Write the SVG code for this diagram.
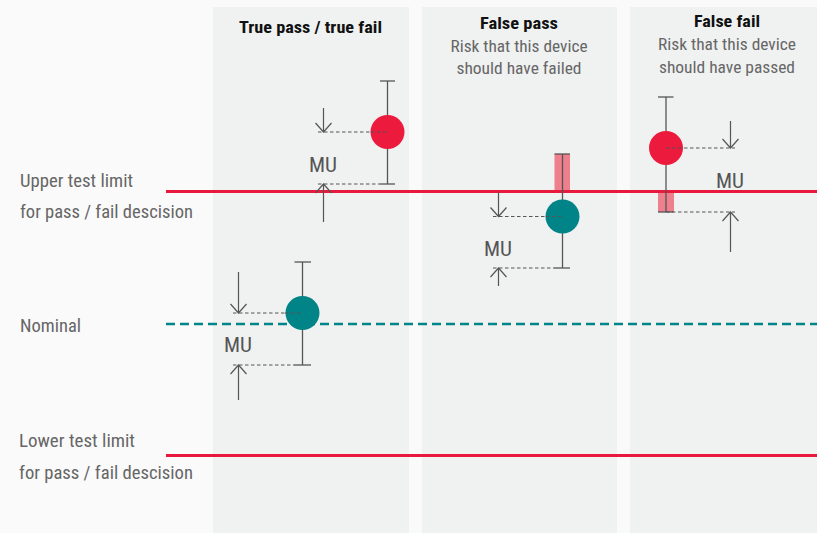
<svg xmlns="http://www.w3.org/2000/svg" width="817" height="533" viewBox="0 0 817 533">
<style>
.t{font-family:"Liberation Sans Narrow","Roboto Condensed","Liberation Sans",Arial,sans-serif;}
.hd{font-size:17px;font-weight:bold;fill:#111;text-anchor:middle}
.sub{font-size:16px;fill:#666;text-anchor:middle}
.lbl{font-size:18px;fill:#666}
.mu{font-size:20px;fill:#555;text-anchor:middle}
.bar{stroke:#555;stroke-width:1.3;fill:none}
.dash{stroke:#555;stroke-width:1;stroke-dasharray:3.5 2.5;fill:none}
.arr{stroke:#555;stroke-width:1.2;fill:none}
.lim{stroke:#e8193c;stroke-width:3}
.nom{stroke:#00868a;stroke-width:2.5;stroke-dasharray:9 5}
.red{fill:#ec1a3c}
.teal{fill:#008487}
.pink{fill:#ee7f8c}
</style>
<rect x="0" y="0" width="817" height="533" fill="#fafafa"/>
<g id="columns">
<rect x="213" y="7" width="196" height="526" fill="#f0f1f1"/>
<rect x="422" y="7" width="195" height="526" fill="#f0f1f1"/>
<rect x="630" y="7" width="187" height="526" fill="#f0f1f1"/>
</g>
<g id="headers" class="t">
<text class="hd" x="310.5" y="33" textLength="143" lengthAdjust="spacingAndGlyphs">True pass / true fail</text>
<text class="hd" x="519" y="29" textLength="78" lengthAdjust="spacingAndGlyphs">False pass</text>
<text class="sub" x="519" y="52" textLength="137" lengthAdjust="spacingAndGlyphs">Risk that this device</text>
<text class="sub" x="519" y="74" textLength="125" lengthAdjust="spacingAndGlyphs">should have failed</text>
<text class="hd" x="727" y="27" textLength="66" lengthAdjust="spacingAndGlyphs">False fail</text>
<text class="sub" x="727" y="50" textLength="138" lengthAdjust="spacingAndGlyphs">Risk that this device</text>
<text class="sub" x="727" y="73" textLength="136" lengthAdjust="spacingAndGlyphs">should have passed</text>
</g>
<g id="labels" class="t">
<text class="lbl" x="20" y="187" textLength="113" lengthAdjust="spacingAndGlyphs">Upper test limit</text>
<text class="lbl" x="20" y="218" textLength="173" lengthAdjust="spacingAndGlyphs">for pass / fail descision</text>
<text class="lbl" x="20" y="332" textLength="61" lengthAdjust="spacingAndGlyphs">Nominal</text>
<text class="lbl" x="19" y="447" textLength="116" lengthAdjust="spacingAndGlyphs">Lower test limit</text>
<text class="lbl" x="19" y="479" textLength="174" lengthAdjust="spacingAndGlyphs">for pass / fail descision</text>
</g>
<g id="pinkbars">
<rect class="pink" x="554.5" y="154" width="15.5" height="38"/>
<rect class="pink" x="658" y="192" width="16" height="20"/>
</g>
<g id="connectors">
<line class="lim" x1="166" y1="191.5" x2="817" y2="191.5"/>
<line class="lim" x1="166" y1="455.5" x2="817" y2="455.5"/>
<line class="nom" x1="166" y1="324" x2="817" y2="324"/>
</g>
<g id="point1">
<line class="bar" x1="302.5" y1="262" x2="302.5" y2="365"/>
<line class="bar" x1="294.5" y1="262" x2="311" y2="262"/>
<line class="bar" x1="294.5" y1="365" x2="311" y2="365"/>
<line class="dash" x1="233" y1="313" x2="302" y2="313"/>
<line class="dash" x1="233" y1="365" x2="295" y2="365"/>
<circle class="teal" cx="302.5" cy="313" r="17"/>
<line class="dash" x1="285" y1="313" x2="302" y2="313"/>
<path class="arr" d="M238.5 272V313M230.5 304L238.5 313L246.5 304"/>
<path class="arr" d="M238.5 400V365M230.5 374L238.5 365L246.5 374"/>
<text class="t mu" x="238" y="352" textLength="28" lengthAdjust="spacingAndGlyphs">MU</text>
</g>
<g id="point2">
<line class="bar" x1="387.5" y1="81" x2="387.5" y2="184"/>
<line class="bar" x1="380" y1="81" x2="395" y2="81"/>
<line class="bar" x1="380" y1="184" x2="395" y2="184"/>
<line class="dash" x1="318" y1="132" x2="387" y2="132"/>
<line class="dash" x1="318" y1="184" x2="380" y2="184"/>
<circle class="red" cx="387.5" cy="132" r="17"/>
<line class="dash" x1="371" y1="132" x2="387" y2="132"/>
<path class="arr" d="M323.5 108V132M315.5 123L323.5 132L331.5 123"/>
<path class="arr" d="M323.5 222V184M315.5 193L323.5 184L331.5 193"/>
<text class="t mu" x="323" y="172" textLength="28" lengthAdjust="spacingAndGlyphs">MU</text>
</g>
<g id="point3">
<line class="bar" x1="562.5" y1="154" x2="562.5" y2="268"/>
<line class="bar" x1="554.5" y1="154" x2="570" y2="154"/>
<line class="bar" x1="554.5" y1="268" x2="570" y2="268"/>
<line class="dash" x1="493" y1="216.5" x2="562" y2="216.5"/>
<line class="dash" x1="493" y1="268" x2="555" y2="268"/>
<circle class="teal" cx="562.5" cy="216.5" r="17"/>
<line class="dash" x1="546" y1="216.5" x2="562" y2="216.5"/>
<path class="arr" d="M498.5 192V216.5M490.5 207.5L498.5 216.5L506.5 207.5"/>
<path class="arr" d="M498.5 286V268M490.5 277L498.5 268L506.5 277"/>
<text class="t mu" x="498" y="256" textLength="28" lengthAdjust="spacingAndGlyphs">MU</text>
</g>
<g id="point4">
<line class="bar" x1="666" y1="97" x2="666" y2="212"/>
<line class="bar" x1="658" y1="97" x2="673.5" y2="97"/>
<line class="bar" x1="658" y1="212" x2="673.5" y2="212"/>
<circle class="red" cx="666" cy="148" r="17"/>
<line class="dash" x1="666" y1="148" x2="735" y2="148"/>
<line class="dash" x1="666" y1="212" x2="735" y2="212"/>
<path class="arr" d="M730.5 121V148M722.5 139L730.5 148L738.5 139"/>
<path class="arr" d="M730.5 252V212M722.5 221L730.5 212L738.5 221"/>
<text class="t mu" x="730" y="188" textLength="28" lengthAdjust="spacingAndGlyphs">MU</text>
</g>
</svg>
